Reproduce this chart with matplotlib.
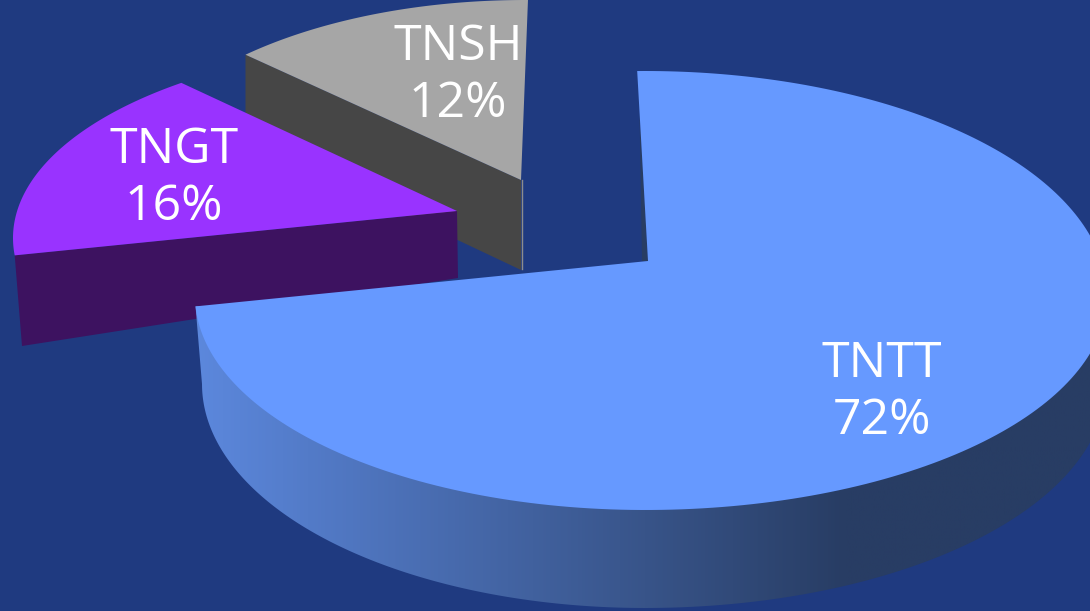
import numpy as np
import matplotlib
matplotlib.use("Agg")
import matplotlib.pyplot as plt
from matplotlib.colors import LinearSegmentedColormap
from matplotlib.patches import Polygon

categories = ["TNTT", "TNGT", "TNSH"]
shares = [72, 16, 12]

BG = "#1f3a80"
top_colors = {"TNTT": "#6699ff", "TNGT": "#9933ff", "TNSH": "#a6a6a6"}
wall_colors = {"TNGT": "#3d1260", "TNSH": "#464646"}

# layout: apex, ellipse centre, (rx left, rx right), (ry up, ry down), aspect, end-angle nudge
layout = {
    "TNTT": dict(apex=(648, 261), c=(645, 296), rx=(450, 462), ry=(225, 214), asp=0.46, nudge=0),
    "TNGT": dict(apex=(457, 211), c=(440, 238), rx=(427, 427), ry=(195, 195), asp=0.46, nudge=0),
    "TNSH": dict(apex=(521, 180), c=(525, 198), rx=(405, 405), ry=(198, 198), asp=0.45, nudge=-2.5),
}
labels_at = {"TNTT": (882, 393), "TNGT": (174, 179), "TNSH": (458, 76)}
START = 91.5

fig = plt.figure(figsize=(10.9, 6.11), dpi=100, facecolor=BG)
ax = fig.add_axes([0, 0, 1, 1])
ax.set_xlim(0, 1090)
ax.set_ylim(611, 0)
ax.axis("off")


def inside(x, y, g):
    cx, cy = g["c"]
    rx = g["rx"][0] if x < cx else g["rx"][1]
    ry = g["ry"][0] if y < cy else g["ry"][1]
    return ((x - cx) / rx) ** 2 + ((y - cy) / ry) ** 2 < 1


def rim(a_deg, g):
    a = np.radians(a_deg)
    dx, dy = np.cos(a), -np.sin(a) * g["asp"]
    ax0, ay0 = g["apex"]
    lo, hi = 0.0, 2000.0
    for _ in range(50):
        t = (lo + hi) / 2
        if inside(ax0 + t * dx, ay0 + t * dy, g):
            lo = t
        else:
            hi = t
    return ax0 + lo * dx, ay0 + lo * dy


# sweep angles clockwise from the data
angles = {}
cur = START
for name, v in zip(categories, shares):
    sweep = v / sum(shares) * 360
    angles[name] = (cur, cur - sweep)
    cur -= sweep


def surface(name):
    g = layout[name]
    a0, a1 = angles[name]
    pts = [rim(a, g) for a in np.linspace(a0, a1 + g["nudge"], 240)]
    return [g["apex"]] + pts


# TNSH
s = surface("TNSH")
left_rim = s[1]
ax.add_patch(Polygon([layout["TNSH"]["apex"], left_rim, (left_rim[0], left_rim[1] + 85), (521, 270)],
                     closed=True, fc=wall_colors["TNSH"], ec="none", zorder=2))
ax.add_patch(Polygon(s, closed=True, fc=top_colors["TNSH"], ec="none", zorder=3))
ax.plot([521.5, 521.5], [180, 269], color="#8c8c8c", lw=1, zorder=3)

# TNGT
s = surface("TNGT")
low_rim = s[1]
ax.add_patch(Polygon([layout["TNGT"]["apex"], low_rim, (22, 346), (458, 278)],
                     closed=True, fc=wall_colors["TNGT"], ec="none", zorder=4))
ax.add_patch(Polygon(s, closed=True, fc=top_colors["TNGT"], ec="none", zorder=5))

# TNTT wall, with its horizontal gradient
s = surface("TNTT")
g_low = dict(c=(645, 384), rx=(443, 461), ry=(224, 224))
theta = np.radians(np.linspace(180, 0, 240))
low_arc = []
for th in theta:
    rx = g_low["rx"][0] if np.cos(th) < 0 else g_low["rx"][1]
    low_arc.append((g_low["c"][0] + rx * np.cos(th), g_low["c"][1] + g_low["ry"][0] * np.sin(th)))
end_pt = s[-1]
wall_poly = [end_pt] + low_arc + [(1107, 296), (645, 296)]
clip = Polygon(wall_poly, closed=True, fc="none", ec="none", transform=ax.transData)
ax.add_patch(clip)
cmap = LinearSegmentedColormap.from_list(
    "wall", [(0, "#5c88dd"), (650 / 900, "#283d64"), (1, "#283d64")])
im = ax.imshow(np.linspace(0, 1, 512).reshape(1, -1), extent=(195, 1095, 611, 290),
               aspect="auto", cmap=cmap, zorder=6, vmin=0, vmax=1)
im.set_clip_path(clip)
ax.set_xlim(0, 1090)
ax.set_ylim(611, 0)

# sliver of inner wall at the notch
ax.add_patch(Polygon([(639.5, 113), (642, 261), (648, 261)], closed=True, fc="#283d64", ec="none", zorder=6))
ax.add_patch(Polygon(s, closed=True, fc=top_colors["TNTT"], ec="none", zorder=7))

for name, v in zip(categories, shares):
    x, y = labels_at[name]
    ax.text(x, y, f"{name}\n{v}%", color="white", ha="center", va="center", fontsize=36,
            family=["Open Sans", "DejaVu Sans"], linespacing=1.2, zorder=10)

fig.savefig("out.png", dpi=100, facecolor=BG)
